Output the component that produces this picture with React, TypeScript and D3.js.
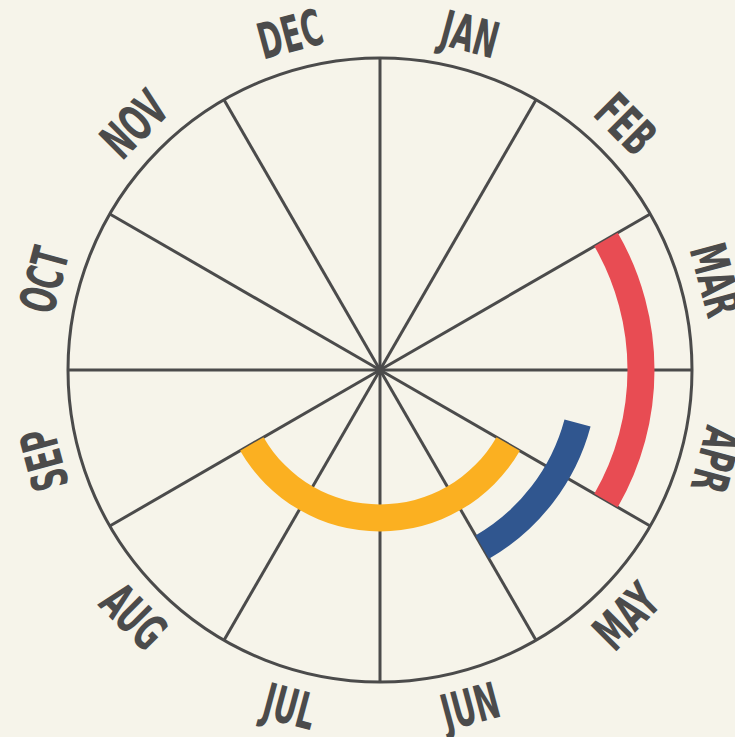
import { useEffect, useRef } from 'react';
import * as d3 from 'd3';

const months = ['JAN', 'FEB', 'MAR', 'APR', 'MAY', 'JUN', 'JUL', 'AUG', 'SEP', 'OCT', 'NOV', 'DEC'];

// events: start / end in months from Jan 1 (e.g. 3.5 = mid April), inner track first
const eventStart = [4, 3.5, 2];
const eventEnd = [8, 5, 4];
const eventColors = ['#fbb021', '#30568f', '#e84c53'];

const W = 735;
const H = 737;
const cx = 380;
const cy = 370;
const R = 312;

export default function App() {
  const ref = useRef<SVGSVGElement>(null);

  useEffect(() => {
    const svg = d3.select(ref.current);
    svg.selectAll('*').remove();

    svg.append('rect').attr('width', W).attr('height', H).attr('fill', '#f6f4ea');

    const g = svg.append('g').attr('transform', `translate(${cx},${cy})`);

    const angle = d3.scaleLinear().domain([0, 12]).range([0, 2 * Math.PI]);
    const track = d3.scaleLinear().domain([0, eventStart.length - 1]).range([148, 261]);
    const band = 27;

    const ink = '#4b4b4b';

    g.append('circle').attr('r', R).attr('fill', 'none').attr('stroke', ink).attr('stroke-width', 3);

    g.selectAll('line.spoke')
      .data(d3.range(12))
      .enter()
      .append('line')
      .attr('class', 'spoke')
      .attr('x1', 0)
      .attr('y1', 0)
      .attr('x2', d => R * Math.sin(angle(d)))
      .attr('y2', d => -R * Math.cos(angle(d)))
      .attr('stroke', ink)
      .attr('stroke-width', 3);

    const arc = d3.arc<number>()
      .innerRadius(i => track(i) - band / 2)
      .outerRadius(i => track(i) + band / 2)
      .startAngle(i => angle(eventStart[i]))
      .endAngle(i => angle(eventEnd[i]));

    g.selectAll('path.event')
      .data(d3.range(eventStart.length))
      .enter()
      .append('path')
      .attr('class', 'event')
      .attr('d', d => arc(d) as string)
      .attr('fill', d => eventColors[d]);

    g.append('circle').attr('r', 5).attr('fill', ink);

    const labelR = 348;
    g.selectAll('text.month')
      .data(months)
      .enter()
      .append('text')
      .attr('class', 'month')
      .attr('transform', (d, i) => {
        const a = angle(i + 0.5);
        const deg = (a * 180) / Math.PI;
        const rot = deg > 120 && deg < 240 ? deg - 180 : deg;
        const x = labelR * Math.sin(a);
        const y = -labelR * Math.cos(a);
        return `translate(${x},${y}) rotate(${rot}) scale(0.64,1)`;
      })
      .attr('text-anchor', 'middle')
      .attr('dy', '0.36em')
      .attr('fill', ink)
      .style('font-family', "'DejaVu Sans Condensed', 'Liberation Sans Narrow', sans-serif")
      .style('font-weight', 'bold')
      .style('font-size', '50px')
      .text(d => d);
  }, []);

  return (
    <svg
      ref={ref}
      width={W}
      height={H}
      style={{ position: 'absolute', left: 0, top: 0, display: 'block' }}
    />
  );
}
